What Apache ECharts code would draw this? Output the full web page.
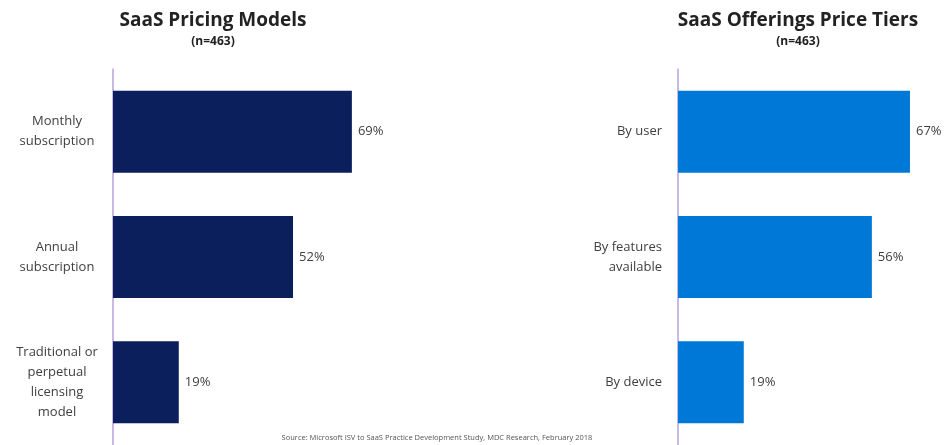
<!DOCTYPE html>
<html>
<head>
<meta charset="utf-8">
<script src="https://cdn.jsdelivr.net/npm/echarts@6/dist/echarts.min.js"></script>
<style>
html, body { margin: 0; padding: 0; background: #fff; }
#main { width: 947px; height: 445px; }
</style>
</head>
<body>
<div id="main"></div>
<script>
// left panel
var pricingModels = ["Monthly\nsubscription", "Annual\nsubscription", "Traditional or\nperpetual\nlicensing\nmodel"];
var pricingValues = [69, 52, 19];
// right panel
var priceTiers = ["By user", "By features\navailable", "By device"];
var tierValues = [67, 56, 19];

var FONT = "'Open Sans', 'Noto Sans', sans-serif";
var txtColor = "#404040";
var axisColor = "#b9a2dc";

var chart = echarts.init(document.getElementById("main"));

var makeBar = function(idx, data, color){
	return {
		type: "bar",
		xAxisIndex: idx,
		yAxisIndex: idx,
		data: data,
		barWidth: 82,
		itemStyle: { color: color },
		label: {
			show: true,
			position: "right",
			distance: 6,
			formatter: "{c}%",
			color: txtColor,
			fontFamily: FONT,
			fontSize: 13
		},
		silent: true
	};
}

var makeY = function(idx, cats, align, margin){
	return {
		type: "category",
		gridIndex: idx,
		data: cats,
		inverse: true,
		axisLine: { show: true, lineStyle: { color: axisColor, width: 1.5 } },
		axisTick: { show: false },
		axisLabel: {
			color: txtColor,
			fontFamily: FONT,
			fontSize: 13,
			lineHeight: 20,
			align: align,
			margin: margin
		}
	};
}

// 269px for 77.7% -> ~3.46px per percent, same as the picture
var makeX = function(idx){
	return {
		type: "value",
		gridIndex: idx,
		min: 0,
		max: 77.7,
		show: false,
		splitLine: { show: false }
	};
}

chart.setOption({
	animation: false,
	title: [
		{
			text: "SaaS Pricing Models",
			subtext: "(n=463)",
			left: 208, top: 6, textAlign: "center",
			itemGap: 6,
			textStyle: { fontFamily: FONT, fontSize: 19, fontWeight: "bold", color: "#222" },
			subtextStyle: { fontFamily: FONT, fontSize: 12, fontWeight: "bold", color: "#222" }
		},
		{
			text: "SaaS Offerings Price Tiers",
			subtext: "(n=463)",
			left: 793, top: 6, textAlign: "center",
			itemGap: 6,
			textStyle: { fontFamily: FONT, fontSize: 19, fontWeight: "bold", color: "#222" },
			subtextStyle: { fontFamily: FONT, fontSize: 12, fontWeight: "bold", color: "#222" }
		},
		{
			text: "Source: Microsoft ISV to SaaS Practice Development Study, MDC Research, February 2018",
			left: 432, top: 429, textAlign: "center",
			textStyle: { fontFamily: FONT, fontSize: 7.5, fontWeight: "normal", color: "#555" }
		}
	],
	grid: [
		{ left: 113, top: 69, width: 269, height: 376 },
		{ left: 678, top: 69, width: 269, height: 376 }
	],
	xAxis: [makeX(0), makeX(1)],
	yAxis: [
		makeY(0, pricingModels, "center", 56),
		makeY(1, priceTiers, "right", 16)
	],
	series: [
		makeBar(0, pricingValues, "#0b1f5c"),
		makeBar(1, tierValues, "#0078d7")
	]
});
</script>
</body>
</html>
